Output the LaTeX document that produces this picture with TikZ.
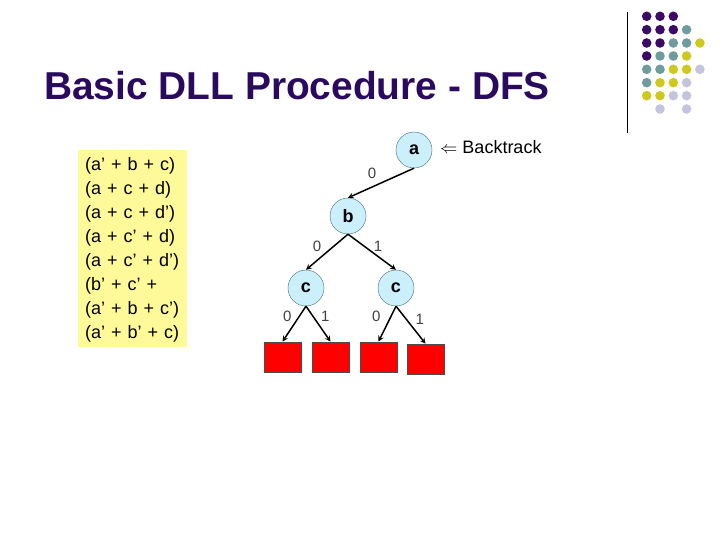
\documentclass[tikz,border=0pt]{standalone}
\usepackage{amsmath}
\usepackage{fontspec}
\setmainfont{Liberation Sans}
\usetikzlibrary{arrows}
\definecolor{plum}{HTML}{3B0B66}
\definecolor{teal2}{HTML}{6F9C9C}
\definecolor{olive2}{HTML}{CFC81E}
\definecolor{lilac}{HTML}{C4C4DE}
\definecolor{titlec}{HTML}{2A0A5E}
\definecolor{ringc}{HTML}{3F6F6F}
\tikzset{l/.style={font=\fontsize{18}{24}\selectfont}}
\tikzset{m/.style={font=\fontsize{15}{15}\selectfont\color{black!75}, inner sep=2pt}}
\tikzset{v/.style={circle, draw=ringc, fill=cyan!20, minimum size=36pt, inner sep=0pt, font=\fontsize{18}{18}\selectfont\bfseries}}
\tikzset{r/.style={draw=black!70, thick, fill=red, minimum width=37pt, minimum height=30pt, inner sep=0pt}}
\tikzset{ed/.style={->, >=stealth, line width=1.5pt}}

\begin{document}
\begin{tikzpicture}[x=1pt, y=-1pt]
        \useasboundingbox (0,0) rectangle (720,540);
        \node [font=\fontsize{38.9}{38.9}\selectfont\bfseries, text=titlec] (T) at (297,86) {Basic DLL Procedure - DFS};
        \draw [line width=1pt] (627.5,12) -- (627.5,133);
        % dots, row by row
        \foreach \y/\row in {16.3/{plum,plum,plum},
            29.7/{plum,plum,plum,teal2},
            43/{plum,plum,teal2,teal2,olive2},
            56/{plum,teal2,teal2,olive2},
            69.3/{teal2,teal2,olive2,olive2,lilac},
            82.7/{teal2,olive2,olive2,lilac},
            95.7/{olive2,olive2,lilac,lilac},
            109/{white,lilac,white,lilac}}
          \foreach \c [count=\i] in \row
            \fill [\c] (633.4+13.3*\i,\y) circle (4.8);
        \node [fill=yellow!40, minimum width=109pt, minimum height=197pt, inner sep=0pt] (CB) at (132.5,248.5) {};
        \node [l, text width=100pt, inner sep=0pt, align=left, anchor=west] (CL) at (85,250) {(a' + b + c)\\(a + c + d)\\(a + c + d')\\(a + c' + d)\\(a + c' + d')\\(b' + c' +\\(a' + b + c')\\(a' + b' + c)};
        \node [r] (R1) at (282.5,357) {};
        \node [r] (R2) at (330.5,357) {};
        \node [r] (R3) at (378.5,357) {};
        \node [r] (R4) at (425.5,359) {};
        \node [v] (C1) at (306,288) {c};
        \node [v] (C2) at (396,288) {c};
        \node [v] (B) at (348,216) {b};
        \node [v] (A) at (414,150) {a};
        \path (C1.south) edge [ed] node [m, above left] {0} (R1.north)
          edge [ed] node [m, above right] {1} (R2.north);
        \path (C2.south) edge [ed] node [m, above left, xshift=-4pt] {0} (R3.north)
          edge [ed] node [m, above right, shift={(2pt,-2pt)}] {1} (R4.north);
        \path (B.south) edge [ed] node [m, above left, shift={(-3pt,-2pt)}] {0} (C1.north)
          edge [ed] node [m, above right, shift={(-1pt,-2pt)}] {1} (C2.north);
        \path (A.south) edge [ed] node [m, above left, shift={(-2pt,2pt)}] {0} (B.north);
        \node [l, anchor=west, inner sep=0pt] (BT) at (440,147) {$\Leftarrow$ Backtrack};
      \end{tikzpicture}
\end{document}
